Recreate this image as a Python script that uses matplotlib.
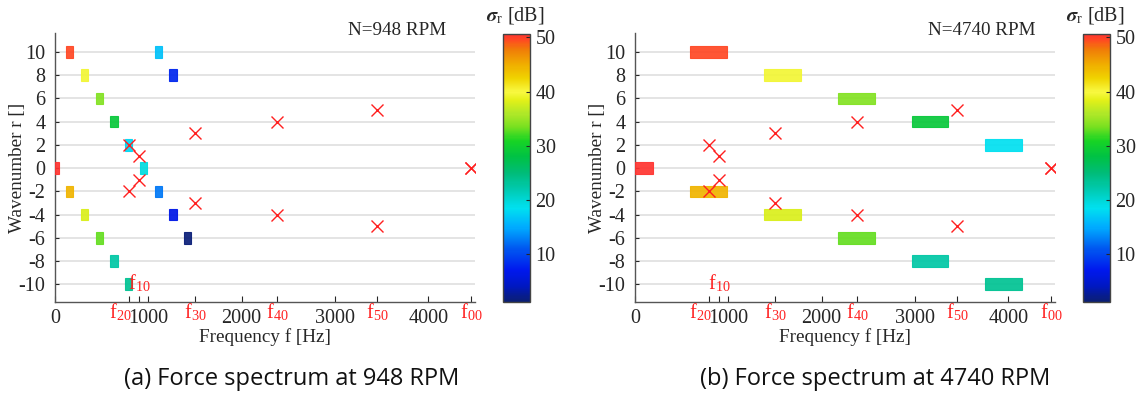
import numpy as np
import matplotlib
matplotlib.use('Agg')
import matplotlib.pyplot as plt
from matplotlib.colors import LinearSegmentedColormap, Normalize

plt.rcParams['font.family'] = ['Liberation Serif', 'DejaVu Serif']
plt.rcParams['mathtext.fontset'] = 'stix'
plt.rcParams['axes.unicode_minus'] = False

# natural frequencies f_mn (Hz) and their wavenumber
f_names = ['20', '10', '30', '40', '50', '00']
f_vals = [793, 900, 1500, 2380, 3450, 4455]
f_modes = [2, 1, 3, 4, 5, 0]

# 948 RPM: force harmonics (frequency, wavenumber, sigma_r in dB)
freq_a = [0, 158, 158, 316, 316, 474, 474, 632, 632, 790, 790, 948, 1106, 1106, 1264, 1264, 1422]
r_a = [0, 10, -2, 8, -4, 6, -6, 4, -8, 2, -10, 0, 10, -2, 8, -4, -6]
sig_a = [50.6, 49.5, 44.5, 39.5, 38, 34, 33, 29, 22.5, 18, 23.5, 19.5, 16.5, 12.5, 8, 6.5, 1.5]

# 4740 RPM
freq_b = [0, 790, 790, 1580, 1580, 2370, 2370, 3160, 3160, 3950, 3950]
r_b = [0, 10, -2, 8, -4, 6, -6, 4, -8, 2, -10]
sig_b = [50.6, 49.5, 44.5, 39.5, 38, 34, 33, 29, 22.5, 18.5, 23.5]

vmin, vmax = 1.3, 50.6
stops = [(1.3, '#0b1f72'), (4, '#0018c0'), (7, '#0018ee'), (11, '#0058f0'),
         (15, '#00acff'), (18.5, '#00e0f0'), (22, '#00cab0'), (25, '#00bc78'),
         (28, '#00c244'), (31, '#18d424'), (33.5, '#78e020'), (36, '#b0e828'),
         (38.5, '#e4f018'), (40, '#f8f840'), (42.5, '#f0d400'), (45, '#f0ae00'),
         (48, '#f07a08'), (49.5, '#ff4a22'), (50.6, '#ff3430')]
cmap = LinearSegmentedColormap.from_list(
    'sig', [((v - vmin) / (vmax - vmin), c) for v, c in stops])
norm = Normalize(vmin, vmax)

W, H = 1142, 397
fig = plt.figure(figsize=(W / 100, H / 100), dpi=100)

txt = '#262626'
red = '#ff2020'


def panel(x0, freq, r, sig, width, rpm):
    ax = fig.add_axes([x0 / W, 1 - 301.7 / H, 420 / W, 268.4 / H])
    cols = cmap(norm(np.array(sig)))
    ax.bar(freq, 1.0, bottom=np.array(r) - 0.5, width=width, color=cols,
           edgecolor=cols, linewidth=0.8, alpha=0.92, zorder=3)
    fx = [f for f in f_vals for _ in (0, 1)]
    fy = [m * s for m in f_modes for s in (1, -1)]
    ax.plot(fx, fy, 'x', color=red, ms=9, mew=1.0, zorder=4)
    ax.set_xlim(0, 4500)
    ax.set_ylim(-11.5, 11.6)
    ax.set_yticks(range(-10, 11, 2))
    ax.grid(axis='y', color='#e2e2e2', lw=1.3, zorder=0)
    ticks = [0, 1000, 2000, 3000, 4000] + f_vals
    ax.set_xticks(ticks)
    ax.set_xticklabels(['0', '1000', '2000', '3000', '4000'] + [''] * len(f_vals))
    # red f_mn labels under the axis (f10 sits inside the axes)
    for n, f in zip(f_names, f_vals):
        lab = r'f$_{\mathregular{%s}}$' % n
        if n == '10':
            ax.text(f, -10.45, lab, color=red, fontsize=14.5,
                    ha='center', va='baseline')
        elif n == '20':
            ax.text(f + 22, -0.062, lab, color=red, fontsize=14.5,
                    ha='right', va='baseline', transform=ax.get_xaxis_transform())
        else:
            ax.text(f, -0.062, lab, color=red, fontsize=14.5,
                    ha='center', va='baseline', transform=ax.get_xaxis_transform())
    ax.tick_params(direction='in', labelsize=14.5, colors=txt, length=4, width=0.8)
    ax.tick_params(axis='x', pad=5)
    ax.tick_params(axis='y', pad=7, length=3)
    for s in ['top', 'right']:
        ax.spines[s].set_visible(False)
    for s in ['left', 'bottom']:
        ax.spines[s].set_color('#555555')
        ax.spines[s].set_linewidth(1.0)
    ax.set_xlabel('Frequency f [Hz]', fontsize=13.8, color=txt)
    ax.xaxis.set_label_coords(0.5, -0.1)
    ax.set_ylabel('Wavenumber r []', fontsize=13.8, color=txt)
    ax.yaxis.set_label_coords(-0.068, 0.5)
    ax.text(0.698, 1.01, 'N=%d RPM' % rpm, transform=ax.transAxes,
            fontsize=13.8, color=txt, ha='left', va='center')

    cax = fig.add_axes([(x0 + 447.7) / W, 1 - 301.7 / H, 27.3 / W, 267.7 / H])
    sm = matplotlib.cm.ScalarMappable(norm=norm, cmap=cmap)
    cb = fig.colorbar(sm, cax=cax)
    cb.set_ticks([10, 20, 30, 40, 50])
    cb.outline.set_edgecolor('#444444')
    cb.outline.set_linewidth(1.0)
    cax.tick_params(direction='in', labelsize=14.5, colors=txt, length=3, pad=4)
    cax.text(0.45, 1.05, r'$\mathbfit{\sigma}_{\mathregular{r}}$ [dB]',
             transform=cax.transAxes, ha='center', va='baseline',
             fontsize=14.5, color=txt)
    return ax


panel(55, freq_a, r_a, sig_a, 79, 948)
panel(635, freq_b, r_b, sig_b, 395, 4740)

cap_font = ['Open Sans', 'DejaVu Sans']
fig.text(292 / W, 1 - 379 / H, '(a) Force spectrum at 948 RPM', family=cap_font,
         fontsize=17, color='#111111', ha='center', va='center')
fig.text(875 / W, 1 - 379 / H, '(b) Force spectrum at 4740 RPM', family=cap_font,
         fontsize=17, color='#111111', ha='center', va='center')

fig.savefig('out.png', dpi=100)
